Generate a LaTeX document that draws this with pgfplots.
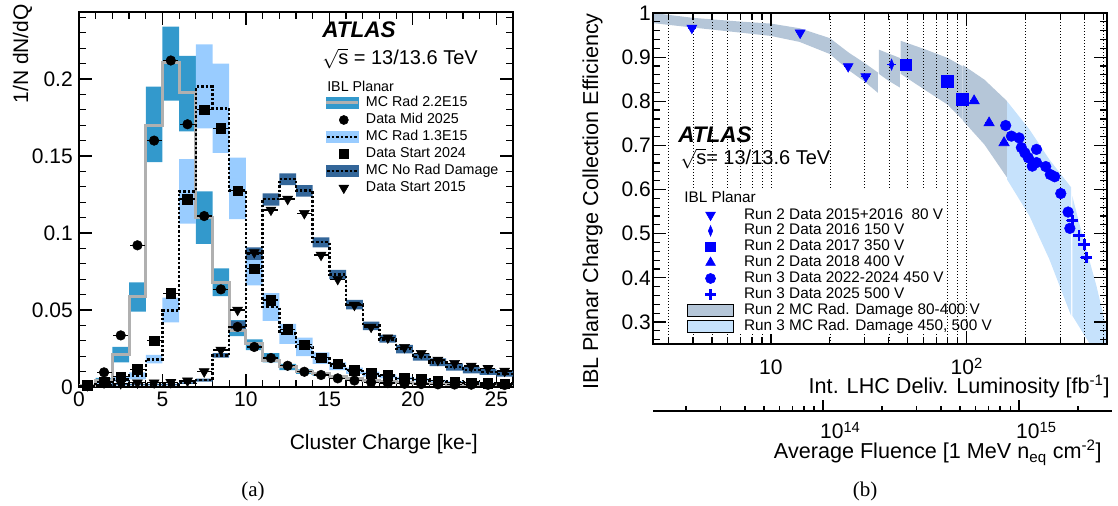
\documentclass[border=0pt]{standalone}
\usepackage{fontspec}
\setmainfont{Liberation Sans}
\newfontfamily\serifcap{Liberation Serif}
\usepackage{amsmath}
\usepackage{pgfplots}
\pgfplotsset{compat=1.18}
\usepackage{pgfplotstable}
\usepgfplotslibrary{fillbetween}

\definecolor{cmid}{RGB}{51,153,204}
\definecolor{clight}{RGB}{153,204,255}
\definecolor{cdark}{RGB}{51,102,153}
\definecolor{cgrey}{RGB}{176,176,176}
\definecolor{rtwo}{RGB}{181,198,216}
\definecolor{rthree}{RGB}{198,226,252}

\newcommand{\lab}{\fontsize{15.75}{18.9}\selectfont}
\newcommand{\labr}{\fontsize{16.2}{19.4}\selectfont}
\newcommand{\legl}{\fontsize{10.7}{12.8}\selectfont}
\newcommand{\legr}{\fontsize{11.5}{13.8}\selectfont}
\newcommand{\atl}{\fontsize{16.9}{20}\selectfont\bfseries\itshape}
\newcommand{\ecm}{\fontsize{15}{18}\selectfont}

\pgfplotsset{
 lbox22/.style={legend image code/.code={\fill[cmid] (0pt,-4.3pt) rectangle (24pt,4.3pt); \draw[cgrey, line width=2.25pt] (0pt,0pt) -- (24pt,0pt);}},
 lbox13/.style={legend image code/.code={\fill[clight] (0pt,-4.3pt) rectangle (24pt,4.3pt); \draw[black, line width=1.9pt, dash pattern=on 1.9pt off 1.5pt] (0.5pt,0pt) -- (24pt,0pt);}},
 lboxnr/.style={legend image code/.code={\fill[cdark] (0pt,-4.3pt) rectangle (24pt,4.3pt); \draw[black, line width=1.9pt, dash pattern=on 1.9pt off 1.5pt] (0.5pt,0pt) -- (24pt,0pt);}},
 lcirc/.style={legend image code/.code={\path[draw=none,fill=none] (0pt,-4.3pt) rectangle (24pt,4.3pt); \draw[black, only marks, mark=*, mark size=3.4pt] plot coordinates {(13pt,0pt)};}},
 lsq/.style={legend image code/.code={\path[draw=none,fill=none] (0pt,-4.3pt) rectangle (24pt,4.3pt); \draw[black, only marks, mark=square*, mark size=3.4pt] plot coordinates {(13pt,0pt)};}},
 ltri/.style={legend image code/.code={\path[draw=none,fill=none] (0pt,-4.3pt) rectangle (24pt,4.3pt); \draw[black, only marks, mark=triangle*, mark size=4.2pt, mark options={rotate=180}] plot coordinates {(13pt,0pt)};}},
 rtrid/.style={legend image code/.code={\path[draw=none,fill=none] (0pt,-4.5pt) rectangle (34.5pt,4.5pt); \draw[blue, only marks, mark=triangle*, mark size=4.2pt, mark options={rotate=180}] plot coordinates {(17.25pt,0pt)};}},
 rdiam/.style={legend image code/.code={\path[draw=none,fill=none] (0pt,-4.5pt) rectangle (34.5pt,4.5pt); \draw[blue, only marks, mark=diamond*, mark size=4pt, mark options={xscale=0.55}] plot coordinates {(17.25pt,0pt)};}},
 rsq/.style={legend image code/.code={\path[draw=none,fill=none] (0pt,-4.5pt) rectangle (34.5pt,4.5pt); \draw[blue, only marks, mark=square*, mark size=3.6pt] plot coordinates {(17.25pt,0pt)};}},
 rtriu/.style={legend image code/.code={\path[draw=none,fill=none] (0pt,-4.5pt) rectangle (34.5pt,4.5pt); \draw[blue, only marks, mark=triangle*, mark size=4.2pt] plot coordinates {(17.25pt,0pt)};}},
 rcirc/.style={legend image code/.code={\path[draw=none,fill=none] (0pt,-4.5pt) rectangle (34.5pt,4.5pt); \draw[blue, only marks, mark=*, mark size=3.8pt] plot coordinates {(17.25pt,0pt)};}},
 rplus/.style={legend image code/.code={\path[draw=none,fill=none] (0pt,-4.5pt) rectangle (34.5pt,4.5pt); \draw[blue, only marks, mark=+, mark size=4pt, mark options={line width=2.2pt}] plot coordinates {(17.25pt,0pt)};}},
 rb2/.style={legend image code/.code={\filldraw[fill=rtwo, draw=black, line width=0.8pt] (0pt,-4.5pt) rectangle (34.5pt,4.5pt);}},
 rb3/.style={legend image code/.code={\filldraw[fill=rthree, draw=black, line width=0.8pt] (0pt,-4.5pt) rectangle (34.5pt,4.5pt);}},
}

\pgfplotstableread{
x c22 lo22 hi22 c13 lo13 hi13 cnr lonr hinr
0 0.0010 0.0005 0.0015 0.0005 0.0002 0.0008 0.0003 0.0001 0.0005
1 0.0045 0.0030 0.0060 0.0020 0.0012 0.0028 0.0010 0.0006 0.0014
2 0.0210 0.0160 0.0260 0.0050 0.0035 0.0065 0.0015 0.0010 0.0020
3 0.0590 0.0490 0.0680 0.0075 0.0050 0.0095 0.0015 0.0010 0.0020
4 0.1700 0.1460 0.1950 0.0180 0.0154 0.0208 0.0015 0.0010 0.0020
5 0.2110 0.1860 0.2340 0.0496 0.0420 0.0580 0.0015 0.0010 0.0020
6 0.1910 0.1660 0.2150 0.1270 0.1060 0.1480 0.0025 0.0020 0.0030
7 0.1100 0.0930 0.1270 0.1950 0.1680 0.2225 0.0045 0.0035 0.0055
8 0.0680 0.0590 0.0770 0.1810 0.1520 0.2100 0.0203 0.0190 0.0220
9 0.0370 0.0330 0.0435 0.1275 0.1090 0.1490 0.0390 0.0360 0.0430
10 0.0280 0.0240 0.0310 0.0868 0.0660 0.0900 0.0870 0.0825 0.0907
11 0.0175 0.0160 0.0220 0.0520 0.0430 0.0610 0.1220 0.1177 0.1258
12 0.0130 0.0110 0.0150 0.0348 0.0280 0.0410 0.1350 0.1310 0.1387
13 0.0100 0.0085 0.0115 0.0260 0.0200 0.0320 0.1275 0.1236 0.1310
14 0.0085 0.0073 0.0097 0.0185 0.0150 0.0225 0.0940 0.0907 0.0972
15 0.0067 0.0057 0.0077 0.0135 0.0110 0.0160 0.0730 0.0700 0.0760
16 0.0052 0.0044 0.0060 0.0105 0.0085 0.0125 0.0535 0.0504 0.0565
17 0.0042 0.0036 0.0048 0.0085 0.0068 0.0100 0.0400 0.0370 0.0424
18 0.0034 0.0029 0.0039 0.0070 0.0056 0.0082 0.0310 0.0288 0.0338
19 0.0028 0.0024 0.0032 0.0055 0.0045 0.0066 0.0246 0.0219 0.0273
20 0.0024 0.0020 0.0028 0.0047 0.0038 0.0056 0.0195 0.0171 0.0219
21 0.0021 0.0018 0.0024 0.0039 0.0032 0.0047 0.0160 0.0136 0.0186
22 0.0019 0.0016 0.0022 0.0032 0.0026 0.0038 0.0130 0.0106 0.0154
23 0.0017 0.0014 0.0020 0.0028 0.0023 0.0033 0.0110 0.0089 0.0132
24 0.0016 0.0013 0.0019 0.0024 0.0020 0.0029 0.0097 0.0078 0.0117
25 0.0015 0.0012 0.0018 0.0021 0.0018 0.0025 0.0085 0.0067 0.0104
26 0.0015 0.0012 0.0018 0.0021 0.0018 0.0025 0.0085 0.0067 0.0104
}\hist

\pgfplotstableread{
x d25 d24 d15
0.5 0.0010 0.0010 0.0010
1.5 0.0095 0.0035 0.0028
2.5 0.0335 0.0067 0.0024
3.5 0.0920 0.0115 0.0028
4.5 0.1600 0.0300 0.0028
5.5 0.2120 0.0608 0.0030
6.5 0.1706 0.1220 0.0040
7.5 0.1110 0.1800 0.0100
8.5 0.0634 0.1680 0.0240
9.5 0.0390 0.1275 0.0500
10.5 0.0260 0.0768 0.0874
11.5 0.0188 0.0565 0.1150
12.5 0.0138 0.0375 0.1220
13.5 0.0099 0.0275 0.1128
14.5 0.0078 0.0190 0.0857
15.5 0.0056 0.0150 0.0700
16.5 0.0042 0.0110 0.0532
17.5 0.0031 0.0089 0.0390
18.5 0.0025 0.0078 0.0320
19.5 0.0021 0.0056 0.0258
20.5 0.0019 0.0050 0.0219
21.5 0.0017 0.0041 0.0175
22.5 0.0016 0.0030 0.0154
23.5 0.0015 0.0028 0.0136
24.5 0.0014 0.0024 0.0121
25.5 0.0013 0.0020 0.0104
}\pts

\begin{document}
\begin{tikzpicture}

% ---------------- left panel ----------------
\begin{axis}[
 at={(59.25pt,89.25pt)}, anchor=south west, scale only axis,
 width=325.5pt, height=281.25pt,
 xmin=0, xmax=26, ymin=0, ymax=0.2435,
 xtick={0,5,10,15,20,25}, xticklabels={0,5,10,15,20,25},
 minor xtick={1,2,3,4,6,7,8,9,11,12,13,14,16,17,18,19,21,22,23,24},
 ytick={0,0.05,0.1,0.15,0.2}, yticklabels={0,0.05,0.1,0.15,0.2},
 minor ytick={0.01,0.02,0.03,0.04,0.06,0.07,0.08,0.09,0.11,0.12,0.13,0.14,0.16,0.17,0.18,0.19,0.21,0.22,0.23,0.24},
 tick align=inside, tick pos=both,
 major tick length=9.5pt, minor tick length=5.25pt,
 axis line style={line width=1pt}, tick style={line width=0.9pt, black},
 ticklabel style={font=\lab, inner sep=0pt},
 xticklabel style={anchor=base, yshift=-15pt},
 yticklabel style={anchor=east, xshift=-4.5pt},
 legend style={at={(0.5668,0.776)}, anchor=north west, draw=none, fill=none,
   inner sep=0pt, outer sep=0pt, font=\legl, row sep=2.25pt, column sep=4.5pt,
   nodes={inner sep=0pt, text height=8pt, text depth=2.5pt}},
 legend cell align=left,
]
\addplot[name path=u22, draw=none, const plot, forget plot] table[x=x,y=hi22]{\hist};
\addplot[name path=l22, draw=none, const plot, forget plot] table[x=x,y=lo22]{\hist};
\addplot[cmid, forget plot] fill between[of=u22 and l22];
\addplot[name path=u13, draw=none, const plot, forget plot] table[x=x,y=hi13]{\hist};
\addplot[name path=l13, draw=none, const plot, forget plot] table[x=x,y=lo13]{\hist};
\addplot[clight, forget plot] fill between[of=u13 and l13];
\addplot[name path=unr, draw=none, const plot, forget plot] table[x=x,y=hinr]{\hist};
\addplot[name path=lnr, draw=none, const plot, forget plot] table[x=x,y=lonr]{\hist};
\addplot[cdark, forget plot] fill between[of=unr and lnr];

\addplot[cgrey, line width=2.25pt, const plot, forget plot] table[x=x,y=c22]{\hist};
\addplot[black, line width=1.9pt, dash pattern=on 1.9pt off 1.5pt, const plot, forget plot] table[x=x,y=c13]{\hist};
\addplot[black, line width=1.9pt, dash pattern=on 1.9pt off 1.5pt, const plot, forget plot] table[x=x,y=cnr]{\hist};

\addplot[black, only marks, mark=*, mark size=3.6pt, forget plot,
  error bars/x dir=both, error bars/x fixed=0.45, error bars/error mark=none,
  error bars/error bar style={line width=1pt, black}] table[x=x,y=d25]{\pts};
\addplot[black, only marks, mark=square*, mark size=3.6pt, forget plot,
  error bars/x dir=both, error bars/x fixed=0.45, error bars/error mark=none,
  error bars/error bar style={line width=1pt, black}] table[x=x,y=d24]{\pts};
\addplot[black, only marks, mark=triangle*, mark size=4.3pt, mark options={rotate=180}, forget plot,
  error bars/x dir=both, error bars/x fixed=0.45, error bars/error mark=none,
  error bars/error bar style={line width=1pt, black}] table[x=x,y=d15]{\pts};

\addlegendimage{lbox22}\addlegendentry{MC Rad 2.2E15}
\addlegendimage{lcirc}\addlegendentry{Data Mid 2025}
\addlegendimage{lbox13}\addlegendentry{MC Rad 1.3E15}
\addlegendimage{lsq}\addlegendentry{Data Start 2024}
\addlegendimage{lboxnr}\addlegendentry{MC No Rad Damage}
\addlegendimage{ltri}\addlegendentry{Data Start 2015}
\end{axis}

\node[anchor=base west, inner sep=0pt, font=\atl] at (241.5pt,351pt) {ATLAS};
\node[anchor=base west, inner sep=0pt, font=\ecm] at (241.5pt,330.75pt) {$\sqrt{\text{s}}$ = 13/13.6 TeV};
\node[anchor=base west, inner sep=0pt, font=\legl] at (245.25pt,310.5pt) {IBL Planar};
\node[rotate=90, anchor=base east, inner sep=0pt, font=\lab] at (21pt,376.5pt) {1/N dN/dQ};
\node[anchor=base east, inner sep=0pt, font=\lab] at (358.5pt,42pt) {Cluster Charge [ke-]};
\node[inner sep=0pt, font=\serifcap\lab] at (189.75pt,11.25pt) {(a)};

% ---------------- right panel ----------------
\begin{axis}[
 at={(489.75pt,121.5pt)}, anchor=south west, scale only axis,
 width=340.5pt, height=248.25pt,
 xmode=log, xmin=2.5, xmax=520, ymin=0.25, ymax=1,
 xtick={10,100}, xticklabels={10,10\textsuperscript{2}},
 minor xtick={3,4,5,6,7,8,9,20,30,40,50,60,70,80,90,200,300,400,500},
 ytick={0.3,0.4,0.5,0.6,0.7,0.8,0.9,1}, yticklabels={0.3,0.4,0.5,0.6,0.7,0.8,0.9,1},
 minor ytick={0.26,0.28,0.32,0.34,0.36,0.38,0.42,0.44,0.46,0.48,0.52,0.54,0.56,0.58,0.62,0.64,0.66,0.68,0.72,0.74,0.76,0.78,0.82,0.84,0.86,0.88,0.92,0.94,0.96,0.98},
 xmajorgrids, xminorgrids,
 major grid style={black, line width=0.5pt, dash pattern=on 0.75pt off 1.5pt},
 minor grid style={black, line width=0.5pt, dash pattern=on 0.75pt off 1.5pt},
 axis on top,
 tick align=inside, tick pos=both,
 major tick length=9.5pt, minor tick length=5pt,
 axis line style={line width=1pt}, tick style={line width=0.9pt, black},
 ticklabel style={font=\lab, inner sep=0pt},
 xticklabel style={anchor=base, yshift=-23.25pt},
 yticklabel style={anchor=east, xshift=-1.5pt},
]
% Run 2 MC bands
\addplot[fill=rtwo, draw=none, forget plot] coordinates {
 (2.5,1.0) (4,0.989) (7,0.9805) (10,0.976) (14,0.9655) (20,0.943) (25,0.910) (30,0.887) (35.2,0.865)
 (35.2,0.819) (30,0.845) (25,0.870) (20,0.907) (14,0.9345) (10,0.948) (7,0.9555) (4,0.967) (2.5,0.977)} -- cycle;
\addplot[fill=rtwo, draw=none, forget plot] coordinates {
 (35.6,0.917) (40,0.908) (45.6,0.898) (45.6,0.831) (40,0.846) (35.6,0.862)} -- cycle;
\addplot[fill=rtwo, draw=none, forget plot] coordinates {
 (46,0.937) (61,0.918) (80,0.898) (95.3,0.879) (95.3,0.758) (80,0.792) (61,0.826) (46,0.862)} -- cycle;
\addplot[fill=rtwo, draw=none, forget plot] coordinates {
 (95.6,0.882) (123,0.849) (160,0.801) (160,0.628) (123,0.702) (95.6,0.756)} -- cycle;
% Run 3 MC bands
\addplot[fill=rthree, draw=none, forget plot] coordinates {
 (160.5,0.800) (209,0.736) (264,0.668) (341,0.605) (341,0.314) (264,0.442) (209,0.540) (160.5,0.623)} -- cycle;
\addplot[fill=rthree, draw=none, forget plot] coordinates {
 (346,0.585) (378,0.518) (459,0.382) (537,0.255) (560,0.220) (560,0.165) (425,0.250) (346,0.314)} -- cycle;

% data
\addplot[blue, only marks, mark=triangle*, mark size=4.3pt, mark options={rotate=180}, forget plot,
  error bars/x dir=both, error bars/x fixed relative=0.05, error bars/error mark=none,
  error bars/error bar style={line width=0.8pt, blue}] coordinates {
 (3.95,0.966) (14.1,0.955) (24.8,0.879) (30.5,0.856)};
\addplot[blue, only marks, mark=diamond*, mark size=4.2pt, mark options={xscale=0.55}, forget plot,
  error bars/x dir=both, error bars/x fixed relative=0.05, error bars/error mark=none,
  error bars/error bar style={line width=0.8pt, blue}] coordinates {
 (41.3,0.883)};
\addplot[blue, only marks, mark=square*, mark size=4.3pt, forget plot,
  error bars/x dir=both, error bars/x fixed relative=0.05, error bars/error mark=none,
  error bars/error bar style={line width=0.8pt, blue}] coordinates {
 (48.9,0.883) (79.6,0.845) (95,0.804)};
\addplot[blue, only marks, mark=triangle*, mark size=4.5pt, forget plot,
  error bars/x dir=both, error bars/x fixed relative=0.05, error bars/error mark=none,
  error bars/error bar style={line width=0.8pt, blue}] coordinates {
 (109,0.801) (130,0.751) (155,0.706)};
\addplot[blue, only marks, mark=*, mark size=4pt, forget plot,
  error bars/x dir=both, error bars/x fixed relative=0.05, error bars/error mark=none,
  error bars/error bar style={line width=0.8pt, blue}] coordinates {
 (158,0.745) (169,0.721) (185,0.717) (190,0.695) (198,0.683) (206,0.672) (227,0.691)
 (216,0.653) (227,0.661) (253,0.652) (267,0.634) (281,0.629) (302,0.591) (329,0.549) (336,0.512)};
\addplot[blue, only marks, mark=+, mark size=4.2pt, mark options={line width=2.2pt}, forget plot,
  error bars/x dir=both, error bars/x fixed relative=0.07, error bars/error mark=none,
  error bars/error bar style={line width=0.8pt, blue}] coordinates {
 (346,0.529) (374,0.495) (397,0.476) (408,0.446)};
\end{axis}

% legend background (hides grid lines)
\fill[white] (507pt,129pt) rectangle (708pt,237pt);

\begin{axis}[
 at={(489.75pt,121.5pt)}, anchor=south west, scale only axis,
 width=340.5pt, height=248.25pt,
 xmin=0, xmax=1, ymin=0, ymax=1, hide axis,
 legend style={at={(0.0749,0.4118)}, anchor=north west, draw=none, fill=none,
   inner sep=0pt, outer sep=0pt, font=\legr, row sep=0.9pt, column sep=7.5pt,
   nodes={inner sep=0pt, text height=8.5pt, text depth=2.5pt}},
 legend cell align=left,
]
\addlegendimage{rtrid}\addlegendentry{Run 2 Data 2015+2016\ \ 80 V}
\addlegendimage{rdiam}\addlegendentry{Run 2 Data 2016 150 V}
\addlegendimage{rsq}\addlegendentry{Run 2 Data 2017 350 V}
\addlegendimage{rtriu}\addlegendentry{Run 2 Data 2018 400 V}
\addlegendimage{rcirc}\addlegendentry{Run 3 Data 2022-2024 450 V}
\addlegendimage{rplus}\addlegendentry{Run 3 Data 2025 500 V}
\addlegendimage{rb2}\addlegendentry{Run 2 MC Rad. Damage 80-400 V}
\addlegendimage{rb3}\addlegendentry{Run 3 MC Rad. Damage 450, 500 V}
\end{axis}

% fluence axis
\begin{axis}[
 at={(489.75pt,71.25pt)}, anchor=south west, scale only axis,
 width=344.25pt, height=20pt,
 xmode=log, xmin=1.358e13, xmax=2.98e15, ymin=0, ymax=1,
 axis x line=bottom, hide y axis,
 x axis line style={-, line width=1pt},
 xtick={1e14,1e15}, xticklabels={10\textsuperscript{14},10\textsuperscript{15}},
 minor xtick={2e13,3e13,4e13,5e13,6e13,7e13,8e13,9e13,2e14,3e14,4e14,5e14,6e14,7e14,8e14,9e14,2e15},
 tick align=inside, major tick length=8.25pt, minor tick length=4pt,
 tick style={line width=0.9pt, black},
 ticklabel style={font=\lab, inner sep=0pt},
 xticklabel style={anchor=base, yshift=-21pt, xshift=13pt},
]
\end{axis}

\node[anchor=base west, inner sep=0pt, font=\atl] at (508.5pt,272.25pt) {ATLAS};
\node[anchor=base west, inner sep=0pt, font=\ecm] at (510pt,255.75pt) {$\sqrt{\text{s}}$= 13/13.6 TeV};
\node[anchor=base west, inner sep=0pt, font=\legr] at (513pt,227.6pt) {IBL Planar};
\node[rotate=90, anchor=base east, inner sep=0pt, font=\labr] at (448.5pt,369.75pt) {IBL Planar Charge Collection Efficiency};
\node[anchor=base east, inner sep=0pt, font=\labr] at (832.5pt,84pt) {Int. LHC Deliv. Luminosity [fb\textsuperscript{-1}]};
\node[anchor=base east, inner sep=0pt, font=\labr] at (826.5pt,35.25pt) {Average Fluence [1 MeV n\textsubscript{eq} cm\textsuperscript{-2}]};
\node[inner sep=0pt, font=\serifcap\lab] at (648.75pt,11.25pt) {(b)};

\pgfresetboundingbox
\path[use as bounding box] (0pt,0pt) rectangle (838.5pt,379.5pt);
\end{tikzpicture}
\end{document}
